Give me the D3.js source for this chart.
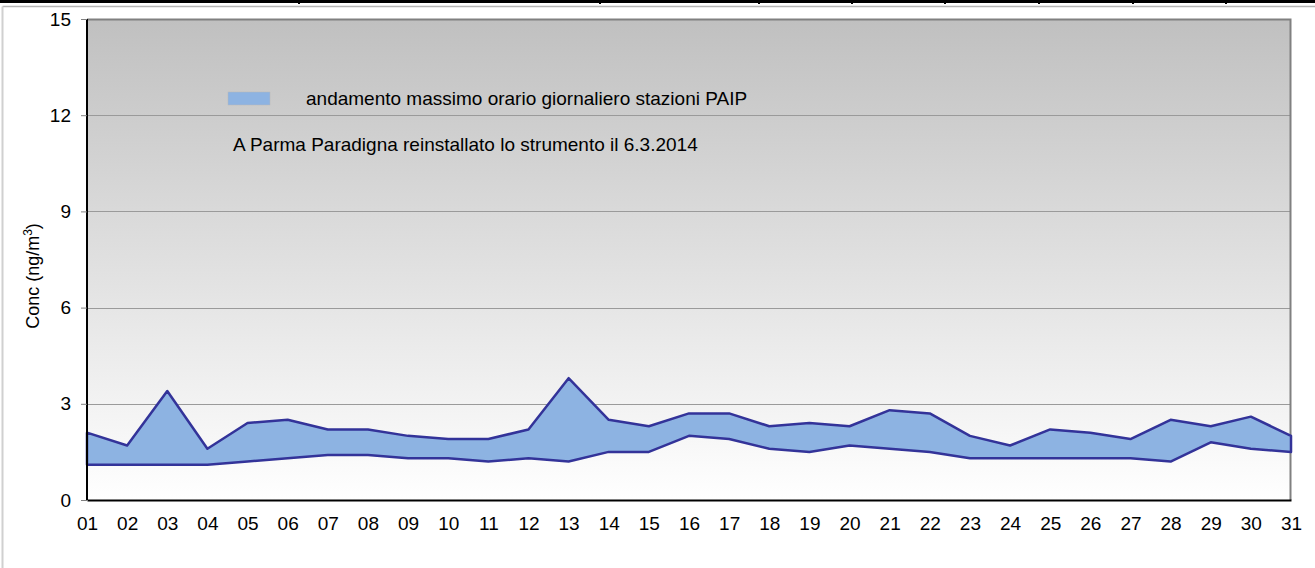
<!DOCTYPE html>
<html>
<head>
<meta charset="utf-8">
<script src="https://cdn.jsdelivr.net/npm/d3@7"></script>
<style>
  body { margin: 0; background: #fff; }
  svg { display: block; font-family: "Liberation Sans", Arial, sans-serif; }
</style>
</head>
<body>
<div class="chart"></div>
<script>
// days of the month
const days = d3.range(1, 32).map((d) => String(d).padStart(2, "0"));
// upper edge of the band (max hourly, highest station)
const maxValues = [2.1, 1.7, 3.4, 1.6, 2.4, 2.5, 2.2, 2.2, 2.0, 1.9, 1.9, 2.2, 3.8, 2.5, 2.3, 2.7,
  2.7, 2.3, 2.4, 2.3, 2.8, 2.7, 2.0, 1.7, 2.2, 2.1, 1.9, 2.5, 2.3, 2.6, 2.0];
// lower edge of the band
const minValues = [1.1, 1.1, 1.1, 1.1, 1.2, 1.3, 1.4, 1.4, 1.3, 1.3, 1.2, 1.3, 1.2, 1.5, 1.5, 2.0,
  1.9, 1.6, 1.5, 1.7, 1.6, 1.5, 1.3, 1.3, 1.3, 1.3, 1.3, 1.2, 1.8, 1.6, 1.5];
const yTicks = [0, 3, 6, 9, 12, 15];
const legendLabel = "andamento massimo orario giornaliero stazioni PAIP";
const noteLabel = "A Parma Paradigna reinstallato lo strumento il 6.3.2014";
// table cell borders peeking in at the top of the picture
const cellBorders = [298, 599, 758, 851, 944, 1038, 1132, 1225];

const W = 1315, H = 568;
const fs = 19;
const margin = { top: 19, right: 24, bottom: 68, left: 87 };
const width = W - margin.left - margin.right,
  height = H - margin.top - margin.bottom;

const svg = d3.select(".chart").append("svg")
  .attr("width", W).attr("height", H);

// page decorations: table line at top, chart outer border
svg.append("rect").attr("x", 0).attr("y", 0).attr("width", W).attr("height", 3).attr("fill", "#000");
svg.selectAll(".cell").data(cellBorders).join("rect")
  .attr("x", (d) => d).attr("y", 0).attr("width", 2).attr("height", 4).attr("fill", "#000");
svg.append("line").attr("x1", 2.5).attr("x2", W).attr("y1", 6.5).attr("y2", 6.5)
  .attr("stroke", "#b4b4b4").attr("stroke-width", 1.5);
svg.append("line").attr("x1", 2.5).attr("x2", 2.5).attr("y1", 6.5).attr("y2", H)
  .attr("stroke", "#d0d0d0").attr("stroke-width", 2);

const defs = svg.append("defs");
const grad = defs.append("linearGradient").attr("id", "bg")
  .attr("x1", 0).attr("y1", 0).attr("x2", 0).attr("y2", 1);
grad.append("stop").attr("offset", "0%").attr("stop-color", "#c0c0c0");
grad.append("stop").attr("offset", "100%").attr("stop-color", "#ffffff");

const g = svg.append("g").attr("transform", `translate(${margin.left},${margin.top})`);

const x = d3.scalePoint().domain(days).range([0, width]);
const y = d3.scaleLinear().domain([0, 15]).range([height, 0]);

g.append("rect").attr("width", width).attr("height", height).attr("fill", "url(#bg)");

// gridlines
g.selectAll(".grid").data(yTicks.filter((d) => d > 0 && d < 15)).join("line")
  .attr("x1", 0).attr("x2", width)
  .attr("y1", (d) => Math.round(y(d)) + 0.5).attr("y2", (d) => Math.round(y(d)) + 0.5)
  .attr("stroke", "#9a9a9a").attr("stroke-width", 1);

// plot border (top/right)
g.append("path")
  .attr("d", `M0,0.5H${width - 0.5}V${height}`)
  .attr("fill", "none").attr("stroke", "#808080").attr("stroke-width", 2);

// band
const band = days.map((d, i) => ({ day: d, lo: minValues[i], hi: maxValues[i] }));
const area = d3.area().x((d) => x(d.day)).y0((d) => y(d.lo)).y1((d) => y(d.hi));
g.append("path").datum(band).attr("d", area)
  .attr("fill", "#8db3e2").attr("stroke", "#333399").attr("stroke-width", 2.5)
  .attr("stroke-linejoin", "round");

// axes
const yAxis = g.append("g").call(d3.axisLeft(y).tickValues(yTicks).tickSize(6).tickPadding(10));
yAxis.attr("font-size", fs).attr("font-family", null);
yAxis.select(".domain").attr("stroke", "#000").attr("stroke-width", 2).attr("d", `M0,0V${height}`);
yAxis.selectAll(".tick line").attr("stroke", "#808080");
yAxis.selectAll("text").attr("fill", "#000");

const xAxis = g.append("g").attr("transform", `translate(0,${height})`)
  .call(d3.axisBottom(x).tickSize(0).tickPadding(17));
xAxis.attr("font-size", fs).attr("font-family", null);
xAxis.select(".domain").attr("stroke", "#000").attr("stroke-width", 2);
xAxis.selectAll("text").attr("fill", "#000");

// y title
const yTitle = svg.append("text")
  .attr("transform", "translate(39,276) rotate(-90)")
  .attr("text-anchor", "middle").attr("font-size", 18);
yTitle.append("tspan").text("Conc (ng/m");
yTitle.append("tspan").attr("baseline-shift", "super").attr("font-size", 12).text("3");
yTitle.append("tspan").text(")");

// legend
svg.append("rect").attr("x", 228).attr("y", 92).attr("width", 42).attr("height", 13)
  .attr("fill", "#8db3e2").attr("stroke", "#b8b8b8").attr("stroke-width", 0.5);
svg.append("text").attr("x", 306).attr("y", 105).attr("font-size", fs).text(legendLabel);
svg.append("text").attr("x", 233).attr("y", 151).attr("font-size", fs).text(noteLabel);
</script>
</body>
</html>
